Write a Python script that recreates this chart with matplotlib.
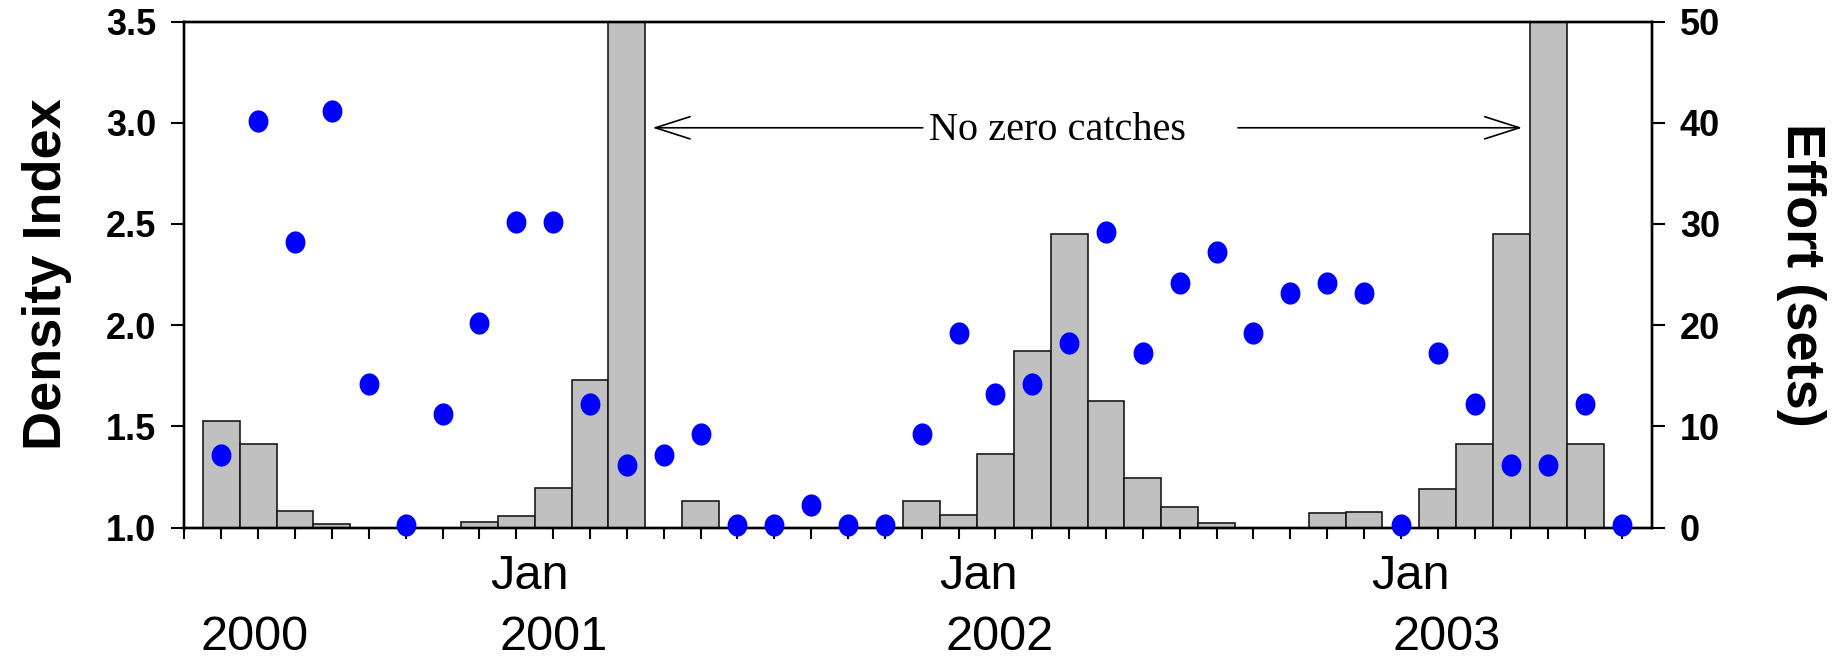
import numpy as np
import matplotlib
matplotlib.use("Agg")
import matplotlib.pyplot as plt
from matplotlib.path import Path

plt.rcParams['font.family'] = ['Liberation Sans', 'DejaVu Sans']

# month index 0..38 (roughly May 2000 .. Jul 2003)
months = np.arange(39)
density = [1.36, 3.01, 2.41, 3.06, 1.71, 1.01, 1.56, 2.01, 2.51, 2.51,
           1.61, 1.31, 1.36, 1.46, 1.01, 1.01, 1.11, 1.01, 1.01, 1.46,
           1.96, 1.66, 1.71, 1.91, 2.46, 1.86, 2.21, 2.36, 1.96, 2.16,
           2.21, 2.16, 1.01, 1.86, 1.61, 1.31, 1.31, 1.61, 1.01]
effort = [10.5, 8.25, 1.6, 0.3, 0, 0, 0, 0.5, 1.1, 3.9,
          14.6, 70, 0, 2.66, 0, 0, 0, 0, 0, 2.66,
          1.2, 7.3, 17.4, 29.0, 12.5, 4.85, 2.0, 0.4, 0, 0,
          1.45, 1.55, 0, 3.8, 8.25, 29.0, 70, 8.25, 0]

jan_pos = [8.37, 20.54, 32.25]
year_pos = [0.9, 9.02, 21.11, 33.25]
year_labels = ['2000', '2001', '2002', '2003']

# slightly tall ellipse marker, like the original dots
t = np.linspace(0, 2 * np.pi, 60)
oval = Path(np.column_stack([np.cos(t), 1.12 * np.sin(t)]), closed=True)

fig = plt.figure(figsize=(18.43, 6.58), dpi=100, facecolor='white')
ax = fig.add_axes([0.1001, 0.1983, 0.7960, 0.7690])
ax2 = ax.twinx()

# bars (effort) on the right axis, drawn beneath the dots
ax2.bar(months, effort, width=1.0, color='#c0c0c0', edgecolor='#1a1a1a',
        linewidth=1.2, zorder=2)
ax2.set_ylim(0, 50)
ax2.set_yticks(np.arange(0, 51, 10))

ax.set_zorder(ax2.get_zorder() + 1)
ax.patch.set_visible(False)
ax.plot(months, density, linestyle='none', marker=oval, color='#0000ff',
        ms=16, mec='none', clip_on=False, zorder=5)
ax.set_ylim(1.0, 3.5)
ax.set_yticks(np.arange(1.0, 3.51, 0.5))
ax.set_yticklabels([f'{v:.1f}' for v in np.arange(1.0, 3.51, 0.5)])
ax.set_xlim(-1, 38.8)
ax.set_xticks(np.arange(-1, 39))
ax.set_xticklabels([])

for a in (ax, ax2):
    for s in a.spines.values():
        s.set_linewidth(1.7)
ax.tick_params(axis='x', direction='out', length=8, width=1.5)
ax.tick_params(axis='y', direction='out', length=9.5, width=1.5, pad=11,
               labelsize=26)
ax2.tick_params(axis='y', direction='out', length=9.5, width=1.5, pad=11,
                labelsize=26)
for lab in ax.get_yticklabels() + ax2.get_yticklabels():
    lab.set_fontweight('bold')

ax.set_ylabel('Density Index', fontsize=39, fontweight='bold', labelpad=24)
ax2.set_ylabel('Effort (sets)', fontsize=39, fontweight='bold', rotation=270,
               labelpad=76)

# date labels under the axis
tr = ax.get_xaxis_transform()
for x in jan_pos:
    ax.text(x, -0.121, 'Jan', transform=tr, ha='center', va='baseline',
            fontsize=35)
for x, lab in zip(year_pos, year_labels):
    ax.text(x, -0.243, lab, transform=tr, ha='center', va='baseline',
            fontsize=35)

# "No zero catches" annotation
arrow = dict(arrowstyle='->,head_length=25,head_width=8', mutation_scale=1,
             lw=1.2, color='black', shrinkA=0, shrinkB=0)
ax.annotate('', xy=(11.70, 2.975), xytext=(19.03, 2.975), arrowprops=arrow)
ax.annotate('', xy=(35.29, 2.975), xytext=(27.58, 2.975), arrowprops=arrow)
ax.text(22.68, 2.96, 'No zero catches', ha='center', va='center',
        fontsize=29, family=['Liberation Serif', 'DejaVu Serif'])

fig.savefig('out.png', dpi=100)
